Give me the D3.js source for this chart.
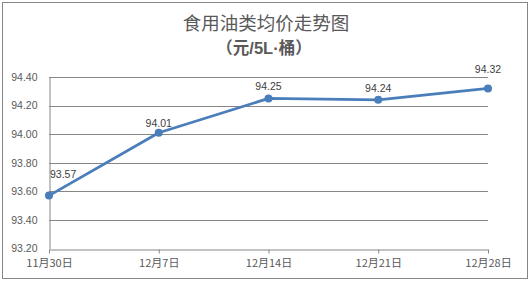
<!DOCTYPE html>
<html><head><meta charset="utf-8">
<script src="https://cdn.jsdelivr.net/npm/d3@7"></script>
<style>
html,body{margin:0;padding:0;background:#fff;}
svg{display:block;font-family:"Liberation Sans","Noto Sans CJK SC",sans-serif;}
</style></head>
<body><svg id="c" width="530" height="283"></svg>
<script>
const categories = ["11月30日","12月7日","12月14日","12月21日","12月28日"];
const values = [93.57, 94.01, 94.25, 94.24, 94.32];
const yTicks = [93.20, 93.40, 93.60, 93.80, 94.00, 94.20, 94.40];
const titleLines = ["食用油类均价走势图", "（元/5L·桶）"];

const svg = d3.select("#c");
const W = 530, H = 283;
const m = {left: 49, right: 42, top: 77, bottom: 34.5};
const x = d3.scalePoint().domain(categories).range([m.left, W - m.right]);
const y = d3.scaleLinear().domain([93.2, 94.4]).range([H - m.bottom, m.top]);
const gridC = "#868686", txtC = "#595959";

svg.append("rect").attr("x", 2.5).attr("y", 2.5).attr("width", 525).attr("height", 276)
  .attr("fill", "#fff").attr("stroke", gridC).attr("stroke-width", 1);

// title
svg.append("text").attr("x", 266).attr("y", 29.5).attr("text-anchor", "middle")
  .attr("font-family", "Noto Sans CJK SC").attr("font-size", 18.5).attr("fill", txtC).text(titleLines[0]);
const t2 = svg.append("text").attr("x", 264).attr("y", 53.5).attr("text-anchor", "middle")
  .attr("font-weight", "bold").attr("font-size", 16.5).attr("fill", txtC);
const parts = titleLines[1].match(/[（元]+|[^（元桶）]+|[桶）]+/g);
parts.forEach(p => {
  t2.append("tspan").attr("font-family", /[A-Za-z0-9\/·]/.test(p) ? "Liberation Sans" : "Noto Sans CJK SC").text(p);
});

// gridlines
svg.append("g").selectAll("line").data(yTicks.slice(1)).join("line")
  .attr("x1", m.left).attr("x2", W - m.right)
  .attr("y1", d => Math.round(y(d)) + 0.5).attr("y2", d => Math.round(y(d)) + 0.5)
  .attr("stroke", gridC).attr("stroke-width", 1);

// y axis
const ya = svg.append("g").attr("transform", `translate(${m.left + 0.5},0)`)
  .call(d3.axisLeft(y).tickValues(yTicks).tickFormat(d3.format(".2f")).tickSize(0).tickPadding(12));
ya.select(".domain").attr("stroke", gridC);
ya.selectAll("text").attr("fill", txtC).attr("font-size", 10.5).attr("font-family", "Liberation Sans");

// x axis
const xa = svg.append("g").attr("transform", `translate(0,${Math.round(y(93.2)) + 0.5})`)
  .call(d3.axisBottom(x).tickSize(4).tickSizeOuter(0).tickPadding(6));
xa.select(".domain").attr("stroke", gridC);
xa.selectAll("line").attr("stroke", gridC);
xa.selectAll("text").attr("fill", txtC).attr("font-size", 11).attr("font-family", "Noto Sans CJK SC");

// line
svg.append("path").datum(values)
  .attr("d", d3.line().x((d, i) => x(categories[i])).y(d => y(d)))
  .attr("fill", "none").attr("stroke", "#4a7ebb").attr("stroke-width", 2.8).attr("stroke-linejoin", "round");
svg.append("g").selectAll("circle").data(values).join("circle")
  .attr("cx", (d, i) => x(categories[i])).attr("cy", d => y(d)).attr("r", 4)
  .attr("fill", "#4a7ebb");

// labels
const dyFor = i => (i === 0 ? 18 : i === categories.length - 1 ? 15 : (i === 1 ? 6 : 8));
svg.append("g").selectAll("text").data(values).join("text")
  .attr("x", (d, i) => i === 0 ? x(categories[i]) + 1 : x(categories[i]))
  .attr("y", (d, i) => y(d) - dyFor(i))
  .attr("text-anchor", (d, i) => i === 0 ? "start" : "middle")
  .attr("font-size", 10.5).attr("fill", "#404040").attr("font-family", "Liberation Sans")
  .text(d => d.toFixed(2));
</script></body></html>
